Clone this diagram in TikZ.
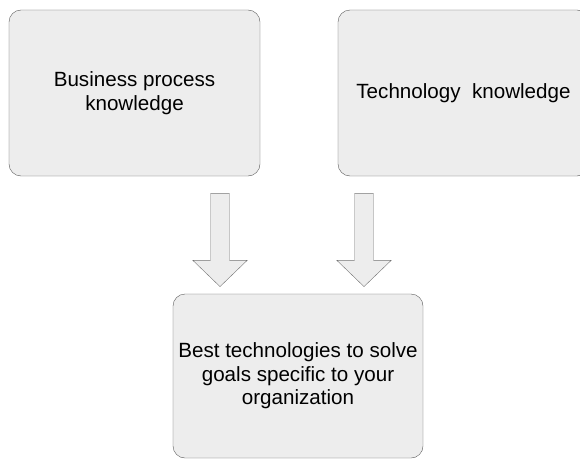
\documentclass[tikz,border=0pt]{standalone}
\usepackage{fontspec}
\setmainfont{Liberation Sans}
\usetikzlibrary{shapes.arrows}

\begin{document}
\begin{tikzpicture}[
      x=1pt, y=-1pt,
      box/.style={draw=black!65, fill=black!7, rectangle, rounded corners=12pt, align=center, inner sep=0pt, font=\fontsize{20.6}{23.5}\selectfont},
      bigarrow/.style={draw=black!55, fill=black!7, single arrow, rotate=-90, inner xsep=0pt, inner ysep=9.3pt, minimum height=93pt, minimum width=54pt, single arrow head extend=17.7pt, single arrow tip angle=92}
  ]
      \clip (0,0) rectangle (580,460);

      % Top: the two kinds of knowledge
      \node [box, minimum width=251pt, minimum height=166pt] (biz) at (134.5, 93) {Business process\\knowledge};
      \node [box, minimum width=251pt, minimum height=166pt] (tech) at (463.5, 93) {Technology\ \ knowledge};

      % Bottom: the result
      \node [box, minimum width=250pt, minimum height=164pt] (best) at (298, 376) {Best technologies to solve\\goals specific to your\\organization};

      % Block arrows
      \node [bigarrow] (arrI) at (220, 235.5) {};
      \node [bigarrow] (arrII) at (364, 235.5) {};
  \end{tikzpicture}
\end{document}
